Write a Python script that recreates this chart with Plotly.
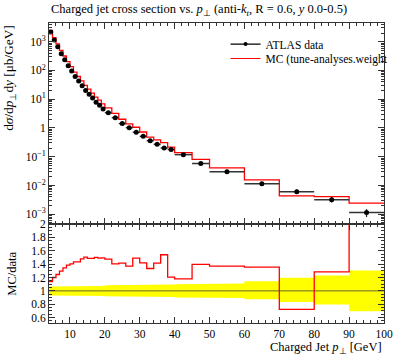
import plotly.graph_objects as go

# ---- data ----
bin_edges = [4, 5, 6, 7, 8, 9, 10, 11, 12, 13, 14, 15, 16, 17, 18, 19, 20,
             22, 24, 26, 28, 30, 32, 34, 36, 38, 40,
             45, 50, 60, 70, 80, 90, 100]
data_vals = [2180, 1150, 670, 383, 236, 146, 96, 61, 43, 29.5, 20, 15, 11, 7.9, 6.2, 4.6,
             3.4, 2.28, 1.42, 1.02, 0.71, 0.51, 0.36, 0.27, 0.20, 0.178,
             0.118, 0.058, 0.030, 0.0115, 0.0060, 0.0032, 0.00115]
mc_over_data = [1.14, 1.20, 1.245, 1.295, 1.345, 1.385, 1.405, 1.435, 1.435, 1.48, 1.505,
                1.485, 1.485, 1.50, 1.49, 1.495,
                1.475, 1.405, 1.415, 1.37, 1.49, 1.42, 1.335, 1.415, 1.54, 1.205,
                1.18, 1.395, 1.37, 1.355, 0.725, 1.285, 2.1]
rel_err_up = [0.065] * 6 + [0.075] * 10 + [0.085] * 5 + [0.095] * 5 + \
             [0.10, 0.11, 0.11, 0.145, 0.195, 0.23, 0.305]
rel_err_dn = [0.07] * 6 + [0.075] * 10 + [0.08] * 5 + [0.09] * 5 + \
             [0.10, 0.105, 0.105, 0.125, 0.165, 0.205, 0.305]

main_ytick_vals = [1e-3, 1e-2, 1e-1, 1, 10, 100, 1000]
main_ytick_text = ["10<sup>−3</sup>", "10<sup>−2</sup>", "10<sup>−1</sup>", "1",
                   "10<sup>1</sup>", "10<sup>2</sup>", "10<sup>3</sup>"]
ratio_ytick_vals = [0.6, 0.8, 1.0, 1.2, 1.4, 1.6, 1.8, 2.0]
ratio_ytick_text = ["0.6", "0.8", "1", "1.2", "1.4", "1.6", "1.8", "2"]
xtick_vals = [10, 20, 30, 40, 50, 60, 70, 80, 90, 100]

# ---- derived ----
n = len(data_vals)
centers = [(bin_edges[i] + bin_edges[i + 1]) / 2 for i in range(n)]
halfw = [(bin_edges[i + 1] - bin_edges[i]) / 2 for i in range(n)]
mc_vals = [d * r for d, r in zip(data_vals, mc_over_data)]
err_up_abs = [d * e for d, e in zip(data_vals, rel_err_up)]
err_dn_abs = [d * e for d, e in zip(data_vals, rel_err_dn)]

FONT = "Liberation Serif"
RED = "#ff0000"
FRAME = "#333333"

fig = go.Figure()

# yellow band in ratio
bx, by_up, by_dn = [], [], []
for i in range(n):
    bx += [bin_edges[i], bin_edges[i + 1]]
    by_up += [1 + rel_err_up[i]] * 2
    by_dn += [1 - rel_err_dn[i]] * 2
fig.add_trace(go.Scatter(x=bx + bx[::-1], y=by_up + by_dn[::-1], fill="toself",
                         fillcolor="#ffff00", line=dict(width=0), mode="lines",
                         xaxis="x", yaxis="y2", showlegend=False, hoverinfo="skip"))
# unity line in ratio
fig.add_trace(go.Scatter(x=[bin_edges[0], bin_edges[-1]], y=[1, 1], mode="lines",
                         line=dict(color="#666633", width=1), xaxis="x", yaxis="y2",
                         showlegend=False))
# ratio MC
fig.add_trace(go.Scatter(x=bin_edges, y=mc_over_data + [mc_over_data[-1]], mode="lines",
                         line=dict(color=RED, width=1.3, shape="hv"),
                         xaxis="x", yaxis="y2", showlegend=False))

# main MC
fig.add_trace(go.Scatter(x=bin_edges, y=mc_vals + [mc_vals[-1]], mode="lines",
                         line=dict(color=RED, width=1.3, shape="hv"),
                         xaxis="x2", yaxis="y", showlegend=False))
# main data
fig.add_trace(go.Scatter(x=centers, y=data_vals, mode="markers",
                         marker=dict(color="black", size=5),
                         error_x=dict(type="data", array=halfw, symmetric=True,
                                      color="#333333", thickness=1.5, width=0),
                         error_y=dict(type="data", array=err_up_abs, arrayminus=err_dn_abs,
                                      symmetric=False, color="#222222", thickness=1.2, width=0),
                         xaxis="x2", yaxis="y", showlegend=False))

# legend entries
fig.add_trace(go.Scatter(x=[None], y=[None], mode="lines+markers", name="ATLAS data",
                         marker=dict(color="black", size=4), line=dict(color="black", width=1.3),
                         xaxis="x2", yaxis="y", legend="legend"))
fig.add_trace(go.Scatter(x=[None], y=[None], mode="lines", name="MC (tune-analyses.weight",
                         line=dict(color=RED, width=1.2), xaxis="x2", yaxis="y",
                         legend="legend2"))

axis_common = dict(showline=True, linecolor=FRAME, linewidth=1, mirror="allticks",
                   ticks="inside", tickcolor=FRAME, showgrid=False, zeroline=False,
                   tickfont=dict(family=FONT, size=11.5, color="black"))

minor_log = []
for k in range(-4, 4):
    for m in range(2, 10):
        minor_log.append(m * 10 ** k)

legend_common = dict(xanchor="left", yanchor="top", bgcolor="rgba(0,0,0,0)",
                     font=dict(family=FONT, size=11.5, color="black"),
                     itemwidth=30, borderwidth=0)

fig.update_layout(
    width=397, height=358,
    margin=dict(l=49, r=13, t=23, b=35, autoexpand=False),
    paper_bgcolor="white", plot_bgcolor="white",
    font=dict(family=FONT, size=11.5, color="black"),
    xaxis=dict(domain=[0, 1], range=[4, 100], anchor="y2", tickmode="array",
               tickvals=xtick_vals, ticklen=6,
               minor=dict(dtick=2, tick0=0, ticklen=3, ticks="inside", tickcolor=FRAME),
               **axis_common),
    xaxis2=dict(domain=[0, 1], range=[4, 100], anchor="y", matches="x",
                showticklabels=False, tickmode="array", tickvals=xtick_vals, ticklen=6,
                minor=dict(dtick=2, tick0=0, ticklen=3, ticks="inside", tickcolor=FRAME),
                **axis_common),
    yaxis=dict(domain=[0.33, 1], type="log", range=[-3.34, 3.65], anchor="x2",
               tickmode="array", tickvals=main_ytick_vals, ticktext=main_ytick_text,
               ticklen=6,
               minor=dict(tickmode="array", tickvals=minor_log, ticklen=3, ticks="inside",
                          tickcolor=FRAME),
               **axis_common),
    yaxis2=dict(domain=[0, 0.33], range=[0.52, 2.0], anchor="x",
                tickmode="array", tickvals=ratio_ytick_vals, ticktext=ratio_ytick_text,
                ticklen=6,
                minor=dict(dtick=0.05, tick0=0, ticklen=3, ticks="inside", tickcolor=FRAME),
                **axis_common),
    legend=dict(x=0.527, y=0.978, **legend_common),
    legend2=dict(x=0.527, y=0.93, **legend_common),
    showlegend=True,
)

fig.add_annotation(text="Charged jet cross section vs. <i>p</i><sub>⊥</sub> (anti-<i>k</i><sub><i>t</i></sub>, R = 0.6, <i>y</i> 0.0-0.5)",
                   xref="paper", yref="paper", x=0, y=1.042, xanchor="left", yanchor="middle",
                   showarrow=False, font=dict(family=FONT, size=12.5, color="black"))
fig.add_annotation(text="d<i>σ</i>/d<i>p</i><sub>⊥</sub>d<i>y</i> [μb/GeV]",
                   xref="paper", yref="paper", x=-0.12, y=1.0, xanchor="center", yanchor="top",
                   textangle=-90, showarrow=False, font=dict(family=FONT, size=13.3, color="black"))
fig.add_annotation(text="MC/data",
                   xref="paper", yref="paper", x=-0.113, y=0.165, xanchor="center", yanchor="middle",
                   textangle=-90, showarrow=False, font=dict(family=FONT, size=12.5, color="black"))
fig.add_annotation(text="Charged Jet <i>p</i><sub>⊥</sub> [GeV]",
                   xref="paper", yref="paper", x=1, y=-0.083, xanchor="right", yanchor="middle",
                   showarrow=False, font=dict(family=FONT, size=12.5, color="black"))

fig.write_html("out.html", config={"displayModeBar": False},
               post_script="document.body.style.margin='0';document.body.style.overflow='hidden';")
